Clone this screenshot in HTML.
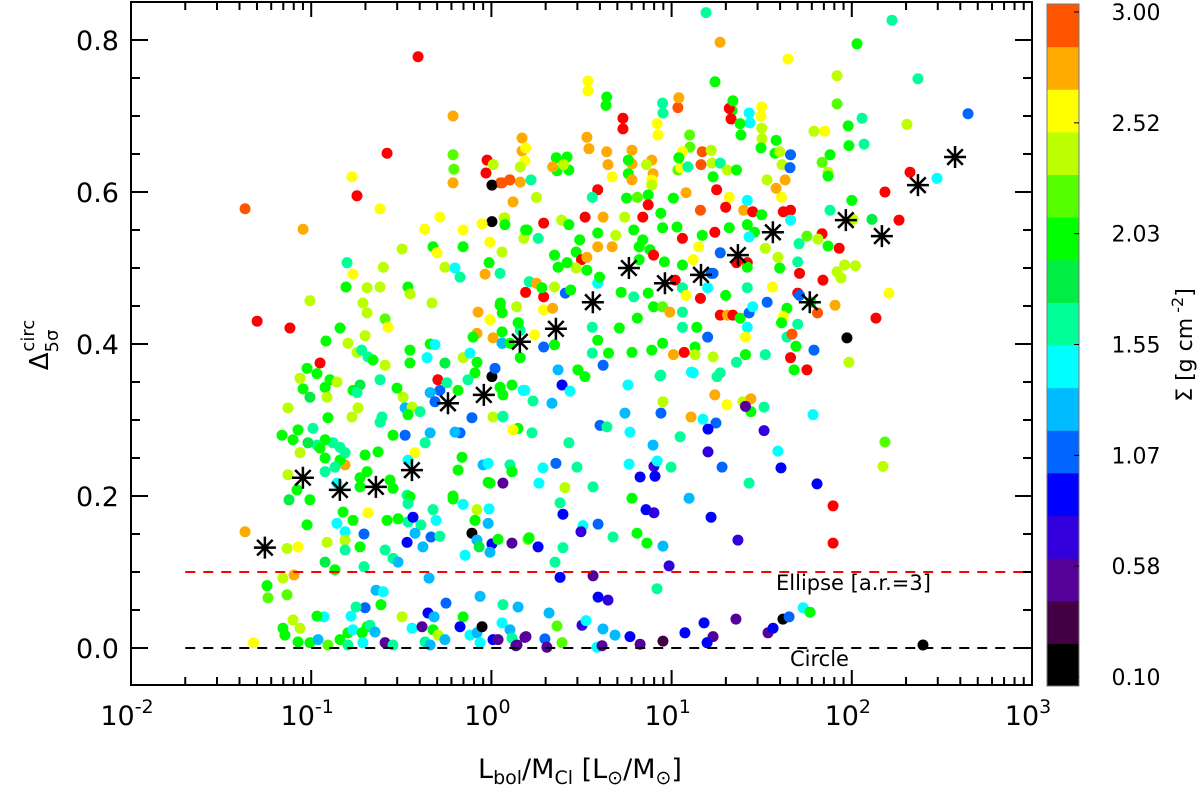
<!DOCTYPE html>
<html><head><meta charset="utf-8"><style>
html,body{margin:0;padding:0;background:#fff;}
svg{display:block;font-family:"DejaVu Sans","Liberation Sans",sans-serif;}
</style></head><body>
<svg id="chart" width="1200" height="791" viewBox="0 0 1200 791" xmlns="http://www.w3.org/2000/svg">
<g id="points"></g>
<g id="refs"></g>
<g id="stars"></g>
<g id="axes"></g>
<g id="cbar"></g>
</svg>
<script>
// ---- data: [log10(Lbol/Mcl), Delta_5sigma^circ, Sigma (g cm^-2)] ----
const pointsLogX = [];
const pointsDelta = [];
const pointsSigma = [];
const rawPoints = [
// top band
[1.191,0.836,1.64],[1.269,0.797,2.65],[1.646,0.775,2.55],[-0.407,0.778,3.2],[0.536,0.746,2.55],[0.536,0.733,2.55],[1.241,0.745,2.01],[0.636,0.714,2.01],[-0.213,0.7,2.74],[0.952,0.704,1.64],[1.035,0.711,2.92],[1.335,0.707,2.01],[1.33,0.696,3.2],[1.435,0.691,1.46],[1.496,0.7,2.55],[0.73,0.683,3.2],[0.924,0.675,2.55],[1.385,0.675,2.01],[1.502,0.67,2.37],[1.496,0.658,2.01],[1.574,0.651,2.01],[-0.579,0.651,3.2],[0.541,0.657,2.74],[1.102,0.659,2.19],[0.17,0.654,2.74],[0.186,0.641,2.55],[-0.208,0.63,2.19],[-0.03,0.625,3.2],[0.364,0.628,2.01],[0.43,0.629,2.01],[0.647,0.636,2.74],[0.78,0.637,2.74],[0.76,0.624,2.01],[0.897,0.624,2.74],[1.035,0.629,2.19],[1.05,0.632,2.55],[1.163,0.636,2.92],[1.224,0.638,2.37],[1.613,0.636,2.37],[1.657,0.632,1.1],
// mid-centre
[0.64,0.725,2.01],[0.95,0.717,1.64],[1.04,0.724,2.74],[0.73,0.697,3.2],[0.92,0.69,2.55],[1.32,0.71,3.2],[1.34,0.72,2.01],[1.43,0.704,1.46],[1.5,0.712,2.55],[1.38,0.69,2.01],[1.1,0.675,2.19],[1.5,0.684,2.37],[1.58,0.668,2.01],
[0.17,0.671,2.74],[0.19,0.658,2.55],[0.53,0.672,2.74],[0.64,0.653,2.74],[0.78,0.655,2.74],[0.76,0.642,2.01],[0.89,0.642,2.74],[0.86,0.636,2.37],[1.06,0.653,2.55],[1.17,0.653,2.92],[1.22,0.655,2.37],[1.04,0.645,2.01],[1.09,0.633,1.64],[1.27,0.638,1.64],[1.31,0.629,2.37],[1.36,0.629,2.01],[1.23,0.62,2.01],[1.6,0.653,2.37],[1.66,0.649,1.1],
[0.36,0.645,2.01],[0.42,0.646,2.01],[0.34,0.633,2.74],[0.4,0.636,2.37],[0.16,0.633,2.37],[0.22,0.616,1.64],[0.1,0.616,2.74],[0.05,0.612,2.92],[0.16,0.613,2.74],[0.12,0.587,2.74],[0.25,0.593,2.37],[0.67,0.62,2.55],[0.78,0.616,2.74],[0.89,0.616,2.55],[0.89,0.609,2.37],[0.59,0.603,3.2],[0.56,0.593,1.64],[0.75,0.592,2.01],[0.81,0.593,2.19],[0.87,0.596,2.01],[1.01,0.592,2.01],[1.08,0.599,2.74],[1.25,0.603,3.2],[1.32,0.593,2.55],[1.42,0.589,1.46],[1.61,0.593,2.55],[1.58,0.605,2.74],[1.63,0.616,2.74],[1.53,0.616,2.37],
[0.87,0.583,3.2],[1.16,0.576,2.92],[1.3,0.58,3.2],[1.4,0.576,2.74],[1.45,0.574,3.2],[1.5,0.57,2.01],[1.62,0.574,3.2],[1.66,0.576,3.2],[1.66,0.563,1.46],[0.07,0.566,2.37],[0.29,0.559,3.2],[0.39,0.563,2.37],[0.43,0.557,2.01],[0.52,0.567,3.2],[0.62,0.567,2.74],[0.74,0.567,2.37],[0.84,0.567,3.2],[0.94,0.572,2.01],
[0.198,0.55,2.01],[0.26,0.539,1.64],[0.18,0.539,2.37],[0.49,0.537,2.01],[0.59,0.546,2.01],[0.69,0.543,2.37],[0.79,0.55,2.01],[0.84,0.537,2.01],[0.95,0.553,2.01],[1.03,0.554,2.01],[1.06,0.539,3.2],[1.17,0.543,2.01],[1.24,0.547,3.2],[1.32,0.553,2.01],[1.42,0.557,2.01],[1.46,0.547,2.01],[1.43,0.541,1.46],
[0.47,0.521,2.01],[0.59,0.528,2.74],[0.67,0.528,2.74],[0.82,0.528,2.01],[0.88,0.524,2.01],[1.15,0.528,2.55],[0.35,0.517,2.01],[0.5,0.511,3.2],[0.53,0.514,2.74],[0.9,0.517,3.2],[1.27,0.52,1.1],[1.52,0.526,2.37],[1.6,0.5,2.01],[1.59,0.514,2.37],[0.47,0.5,2.37],[0.42,0.507,2.01],[0.37,0.501,2.01],[0.53,0.497,2.01],[0.82,0.511,2.01],[0.96,0.508,2.01],[1.06,0.504,2.01],[1.12,0.511,2.55],[1.23,0.493,1.1],[1.36,0.507,3.2],[1.42,0.507,3.2],[1.42,0.501,2.01],[1.7,0.508,1.64],
[0.21,0.482,1.64],[0.19,0.468,3.2],[0.25,0.48,2.74],[0.29,0.462,3.2],[0.28,0.474,2.01],[0.35,0.475,2.37],[0.41,0.467,1.1],[0.44,0.471,2.01],[0.59,0.48,1.46],[0.6,0.488,2.01],[0.72,0.468,2.01],[0.79,0.462,1.64],[0.87,0.467,2.01],[1.02,0.484,3.2],[1.06,0.474,1.64],[1.08,0.464,2.55],[1.16,0.46,3.2],[1.2,0.474,1.46],[1.22,0.493,1.1],[1.3,0.464,2.01],[1.42,0.474,1.64],[1.53,0.455,1.1],[1.56,0.475,2.55],[1.64,0.447,2.01],[1.7,0.467,3.2],
[0.29,0.445,2.55],[0.34,0.447,2.74],[0.14,0.449,2.37],[0.05,0.454,2.01],[0.9,0.449,2.01],[0.95,0.449,2.19],[0.99,0.442,2.74],[1.06,0.442,1.64],[1.27,0.438,3.2],[1.31,0.438,2.74],[1.34,0.438,3.2],[1.38,0.434,2.01],[1.43,0.441,1.1],[1.45,0.449,1.46],[1.42,0.422,1.46],[1.41,0.409,2.55],[1.62,0.436,2.55],[1.61,0.428,2.01],[1.64,0.409,1.64],
[0.06,0.441,2.01],[0.15,0.428,2.01],[0.16,0.418,1.64],[0.24,0.412,2.55],[0.29,0.396,1.1],[0.35,0.399,2.01],[0.56,0.422,1.64],[0.71,0.421,2.01],[0.81,0.434,2.01],[0.59,0.405,2.01],[0.65,0.388,2.01],[0.56,0.388,1.64],[0.78,0.389,2.01],[0.89,0.392,2.01],[0.95,0.401,2.01],[1.01,0.386,2.74],[1.07,0.389,3.2],[1.13,0.396,2.01],[1.13,0.386,2.37],[1.06,0.422,1.64],[1.14,0.422,2.01],[1.2,0.409,1.1],[1.23,0.383,2.37],[1.36,0.376,1.64],[1.41,0.386,2.01],[1.52,0.386,1.64],[1.66,0.382,3.2],[1.68,0.366,2.01],
[0.06,0.401,1.1],[0.16,0.382,2.01],[0.37,0.366,1.28],[0.62,0.372,1.1],[0.48,0.366,2.01],[1.11,0.363,1.46],[1.27,0.362,1.64],[0.94,0.359,1.64],
// left-centre
[-0.213,0.649,2.19],[-0.024,0.642,3.2],[0.01,0.636,2.37],[-0.774,0.62,2.55],[-0.746,0.595,3.2],[-1.367,0.578,2.92],[-1.045,0.551,2.74],[-0.618,0.578,2.55],[-0.213,0.612,2.74],[0.003,0.609,0.1],[0.059,0.612,2.92],[0.103,0.616,2.92],[0.003,0.561,0.1],[-0.052,0.558,2.55],[0.075,0.566,2.37],[0.075,0.557,2.01],[-0.286,0.567,2.55],[-0.37,0.551,2.55],[-0.157,0.55,2.55],[-0.008,0.534,2.55],[0.19,0.55,2.01],[-0.496,0.525,2.37],[-0.324,0.528,2.01],[-0.302,0.52,2.55],[-0.157,0.528,2.01],[0.059,0.521,2.37],[-0.258,0.501,2.37],[-0.202,0.5,1.46],[-0.174,0.488,1.64],[-0.013,0.507,2.01],[-0.035,0.492,2.74],[0.048,0.493,1.64],[-0.801,0.507,1.64],[-0.768,0.492,2.55],[-0.6,0.501,2.37],
[-0.807,0.475,2.01],[-0.69,0.474,2.37],[-0.618,0.475,2.37],[-0.463,0.475,2.01],[-0.452,0.466,2.37],[-0.713,0.454,2.37],[-0.69,0.441,2.37],[-0.59,0.433,2.19],[-0.574,0.422,2.55],[-0.33,0.454,2.37],[-1.007,0.457,2.37],[-1.3,0.43,3.2],[-1.118,0.421,3.2],[-0.84,0.421,2.01],[-0.701,0.411,2.37],[-0.796,0.401,2.37],[-0.918,0.404,2.01],[-0.746,0.389,2.37],[-0.72,0.392,1.64],[-0.685,0.383,1.64],[-0.657,0.379,2.01],[-0.59,0.372,2.37],[-0.452,0.392,2.01],[-0.34,0.4,2.01],[-0.313,0.399,1.46],[-0.357,0.382,1.46],[-0.452,0.375,2.01],[-0.258,0.375,1.83],[-0.951,0.375,3.2],[-1.023,0.368,2.01],[-0.968,0.361,2.01],[-1.062,0.355,2.37],[-0.896,0.353,2.01],[-0.857,0.35,2.37],
[-1.045,0.341,2.01],[-1.007,0.33,1.83],[-0.923,0.343,2.01],[-0.912,0.33,2.37],[-1.129,0.316,2.37],[-0.907,0.303,2.01],[-0.774,0.304,2.37],[-0.74,0.316,2.37],[-0.768,0.339,2.01],[-0.729,0.346,1.83],[-0.746,0.336,1.64],[-0.618,0.353,1.64],[-0.524,0.342,2.01],[-0.49,0.33,2.37],[-0.479,0.316,1.28],[-0.44,0.317,2.37],[-0.463,0.307,2.01],[-0.396,0.311,1.64],[-0.607,0.304,1.64],[-0.618,0.297,1.64],[-0.479,0.28,1.1],[-0.546,0.28,2.01],[-0.34,0.283,1.28],[-0.368,0.27,1.64],[-0.424,0.257,2.55],[-0.463,0.247,1.46],[-0.629,0.258,2.01],[-0.701,0.254,2.01],[-0.563,0.221,2.01],[-0.69,0.232,2.01],[-0.812,0.241,2.74],[-0.84,0.247,2.01],[-0.812,0.257,1.64],[-0.84,0.264,1.64],[-0.879,0.27,1.64],[-0.923,0.274,2.01],[-0.968,0.267,1.64],[-0.99,0.289,1.64],[-1.073,0.287,2.01],[-1.101,0.274,2.01],[-1.162,0.28,2.01],[-1.018,0.27,1.83],[-0.951,0.263,2.01],[-1.062,0.257,2.37],[-0.923,0.25,2.01],[-0.868,0.238,1.64],[-0.923,0.232,1.64],[-1.129,0.228,2.37],[-0.857,0.217,1.46],[-1.079,0.208,2.01],[-0.729,0.224,2.01],[-0.729,0.212,2.01],[-0.546,0.21,2.01],[-0.468,0.201,1.64],
[-0.185,0.234,2.01],[-0.163,0.251,2.01],[-0.046,0.241,1.28],[-0.018,0.243,1.46],[0.103,0.241,1.64],[0.114,0.232,1.64],[-0.018,0.218,2.01],[0.064,0.217,0.56],[-0.213,0.2,2.01],[-0.174,0.283,1.1],[-0.202,0.284,1.28],[-0.108,0.303,1.1],[0.009,0.304,2.37],[0.064,0.304,1.46],[0.12,0.287,2.55],[0.148,0.289,2.01],[0.176,0.339,1.46],[0.114,0.346,2.01],[0.064,0.333,2.01],[0.048,0.343,2.01],[0.003,0.357,0.1],[0.02,0.368,1.1],[-0.091,0.362,2.01],[-0.13,0.353,1.64],[-0.08,0.376,2.01],[-0.157,0.382,2.37],[-0.119,0.388,1.46],[-0.185,0.339,2.01],[-0.297,0.353,3.2],[-0.286,0.339,1.1],[-0.34,0.336,1.28],[-0.313,0.324,1.1],[-0.247,0.349,1.64],[-0.08,0.414,2.74],[-0.008,0.432,2.55],[-0.074,0.442,2.74],[0.048,0.451,2.01],[0.059,0.416,2.01],[0.009,0.408,2.74],[0.059,0.401,1.28],[0.103,0.401,2.01],[0.148,0.428,2.01],[-0.102,0.409,2.01],
// lower-left
[-1.367,0.153,2.74],[-1.073,0.133,2.55],[-1.134,0.131,2.37],[-1.023,0.162,2.01],[-1.123,0.195,1.83],[-1.007,0.195,2.01],[-0.923,0.113,1.83],[-0.868,0.103,2.01],[-1.095,0.096,2.74],[-1.157,0.092,2.37],[-1.245,0.082,2.01],[-1.24,0.066,2.19],[-1.134,0.07,2.19],[-0.912,0.139,2.37],[-0.857,0.164,1.46],[-0.812,0.153,1.46],[-0.812,0.142,2.37],[-0.768,0.168,2.01],[-0.812,0.129,1.64],[-0.729,0.133,2.01],[-0.707,0.15,1.1],[-0.685,0.178,2.55],[-0.707,0.107,1.64],[-0.823,0.179,2.01],[-0.579,0.168,2.01],[-0.518,0.17,2.01],[-0.463,0.166,1.64],[-0.435,0.172,1.0],[-0.391,0.162,1.64],[-0.424,0.151,1.28],[-0.468,0.139,1.0],[-0.38,0.133,1.28],[-0.335,0.146,1.1],[-0.286,0.147,1.64],[-0.59,0.129,1.64],[-0.546,0.118,1.64],[-0.518,0.113,1.28],[-0.452,0.199,2.01],[-0.463,0.19,1.64],[-0.324,0.182,1.64],[-0.307,0.168,1.46],[-0.213,0.196,2.01],[-0.157,0.189,1.46],[-0.08,0.182,2.37],[-0.091,0.168,2.01],[-0.013,0.183,1.46],[-0.018,0.164,1.28],[-0.108,0.151,0.1],[-0.08,0.142,1.28],[-0.068,0.133,1.83],[0.003,0.137,1.0],[-0.008,0.126,1.28],[-0.146,0.122,1.46],[0.037,0.143,2.01],[0.114,0.138,0.56],[0.203,0.143,2.19],[-0.008,0.217,2.01],
[-0.346,0.092,1.28],[-0.64,0.076,1.28],[-0.6,0.074,1.46],[-0.701,0.053,1.1],[-0.751,0.054,1.64],[-0.613,0.057,2.01],[-0.779,0.042,1.46],[-0.929,0.041,1.46],[-0.968,0.042,2.01],[-1.101,0.037,2.37],[-1.157,0.026,2.01],[-1.062,0.026,2.37],[-1.146,0.017,2.01],[-1.073,0.008,2.01],[-1.007,0.007,2.01],[-0.962,0.011,1.28],[-0.907,0.004,2.19],[-0.84,0.011,2.01],[-0.796,0.02,2.01],[-0.768,0.024,1.46],[-0.718,0.02,2.01],[-0.69,0.028,2.01],[-0.674,0.03,1.64],[-0.646,0.021,1.28],[-0.713,0.007,1.46],[-0.796,0.004,1.64],[-0.59,0.007,0.56],[-0.546,0.004,1.64],[-0.496,0.041,2.37],[-0.44,0.026,1.46],[-0.385,0.028,0.56],[-0.352,0.046,0.92],[-0.318,0.041,1.28],[-0.252,0.059,1.1],[-0.324,0.024,2.01],[-0.296,0.017,2.37],[-0.368,0.008,1.64],[-0.258,0.011,1.28],[-0.34,0.004,1.28],[-0.157,0.041,2.01],[-0.174,0.028,1.0],[-0.119,0.017,1.46],[-0.08,0.02,1.28],[-0.052,0.028,0.1],[-0.063,0.007,1.46],[-0.063,0.068,1.28],[0.064,0.057,1.64],[0.148,0.054,1.28],[0.059,0.033,1.46],[0.103,0.024,1.28],[0.009,0.011,1.0],[0.037,0.011,0.56],[0.114,0.013,1.64],[0.142,0.004,0.56],[0.186,0.014,0.56],[-1.32,0.007,2.55],
// lower-centre
[0.936,0.358,1.64],[1.12,0.362,1.46],[1.252,0.357,1.64],[0.186,0.339,1.46],[0.231,0.325,1.64],[0.336,0.322,1.28],[0.392,0.346,1.0],[0.436,0.338,1.46],[0.519,0.357,2.01],[0.741,0.309,1.28],[0.758,0.346,1.46],[0.952,0.324,2.37],[0.941,0.309,1.1],[1.24,0.333,2.74],[1.307,0.32,2.55],[1.396,0.324,2.37],[1.44,0.328,2.74],[1.44,0.311,2.01],[1.41,0.318,0.56],[1.513,0.317,1.64],[1.108,0.304,2.74],[1.174,0.301,1.46],[1.246,0.296,1.1],[1.202,0.288,1.0],[1.513,0.286,0.74],[0.064,0.305,1.64],[0.12,0.287,2.55],[0.225,0.283,1.64],[0.603,0.293,1.1],[0.641,0.291,1.64],[0.769,0.284,1.46],[0.43,0.27,1.64],[1.047,0.278,1.64],[0.897,0.267,1.28],[1.202,0.258,0.74],[1.59,0.259,1.46],[1.607,0.237,1.0],[1.28,0.238,1.1],[1.43,0.217,1.64],[1.097,0.197,1.28],[1.219,0.172,1.0],[0.286,0.237,1.46],[0.358,0.243,1.1],[0.475,0.238,1.64],[0.764,0.242,1.46],[0.902,0.239,0.74],[0.92,0.246,1.46],[0.997,0.238,1.64],[0.825,0.225,1.0],[0.908,0.226,1.0],[0.264,0.217,1.46],[0.114,0.232,2.01],[0.408,0.211,2.37],[0.564,0.212,1.64],[0.381,0.191,1.64],[0.397,0.176,1.0],[0.78,0.197,2.01],[0.858,0.182,1.0],[0.902,0.178,0.74],[0.508,0.161,1.46],[0.497,0.153,0.74],[0.592,0.163,1.1],[0.675,0.146,1.64],[0.808,0.151,2.01],[0.863,0.138,2.01],[0.952,0.134,1.28],[1.368,0.142,0.74],[0.209,0.145,2.01],[0.259,0.133,0.92],[0.397,0.132,1.64],[0.353,0.113,1.64],[0.986,0.108,0.74],[0.381,0.093,0.92],[0.564,0.095,0.56],[0.919,0.078,1.64],[0.592,0.067,0.92],[0.647,0.063,0.74],[0.32,0.046,1.28],[0.364,0.029,2.19],[0.503,0.03,0.74],[0.525,0.036,1.46],[0.619,0.025,1.28],[0.686,0.017,1.28],[0.769,0.015,0.92],[0.825,0.005,0.56],[0.952,0.009,0.37],[1.074,0.02,0.92],[1.18,0.033,0.92],[1.23,0.015,0.56],[1.197,0.007,0.92],[1.357,0.038,0.56],[1.535,0.02,0.56],[1.563,0.026,0.92],[1.618,0.038,0.1],[1.652,0.041,1.1],[0.192,0.015,0.56],[0.297,0.012,1.1],[0.392,0.007,2.19],[0.308,0.001,0.56],[0.586,0.001,1.46],[0.614,0.003,0.56],[0.136,0.003,0.56],
// right
[2.223,0.826,1.64],[2.029,0.795,2.01],[1.918,0.753,2.37],[2.367,0.749,1.64],[1.918,0.716,2.19],[2.057,0.697,1.55],[2.645,0.703,1.1],[2.306,0.689,2.37],[1.79,0.68,2.37],[1.85,0.68,2.55],[1.98,0.687,2.01],[1.984,0.661,2.01],[2.068,0.663,1.64],[1.879,0.649,2.01],[1.835,0.639,2.19],[1.868,0.626,2.37],[1.868,0.621,2.01],[2.473,0.618,1.46],[2.323,0.626,3.2],[2.184,0.6,3.2],[1.879,0.576,1.64],[2.007,0.564,2.37],[2.0,0.589,2.01],[2.112,0.564,1.83],[2.262,0.563,3.2],[1.751,0.542,2.19],[1.835,0.545,3.2],[1.812,0.538,2.37],[1.707,0.532,1.64],[1.868,0.529,2.01],[1.93,0.526,3.2],[1.96,0.504,2.37],[2.02,0.503,2.37],[1.918,0.495,2.37],[1.94,0.487,2.37],[1.71,0.493,3.2],[1.84,0.484,3.2],[1.71,0.464,1.1],[1.774,0.455,2.01],[1.907,0.451,2.74],[1.81,0.441,2.92],[2.206,0.467,2.55],[1.7,0.426,1.64],[1.668,0.413,2.92],[2.134,0.434,3.2],[1.973,0.408,0.1],[1.69,0.397,2.01],[1.79,0.392,1.1],[1.984,0.376,2.37],[1.751,0.366,3.2],[1.785,0.307,1.46],[2.184,0.271,2.19],[2.173,0.239,2.37],[1.807,0.216,0.92],[1.896,0.187,3.2],[1.896,0.138,3.2],[1.73,0.053,1.46],[1.768,0.047,2.01],[2.395,0.004,0.1]
];
rawPoints.forEach(p=>{pointsLogX.push(p[0]);pointsDelta.push(p[1]);pointsSigma.push(p[2]);});
const starLogX = [-1.257,-1.046,-0.841,-0.641,-0.441,-0.241,-0.042,0.158,0.358,0.563,0.763,0.963,1.163,1.368,1.562,1.767,1.967,2.167,2.367,2.573];
const starDelta = [0.132,0.224,0.208,0.212,0.234,0.322,0.333,0.403,0.420,0.455,0.500,0.480,0.491,0.517,0.547,0.455,0.563,0.542,0.609,0.646];
const yTicks = [0.0,0.2,0.4,0.6,0.8];
const yTickLabels = ["0.0","0.2","0.4","0.6","0.8"];
const xDecades = [-2,-1,0,1,2,3];
const cbarLabels = ["3.00","2.52","2.03","1.55","1.07","0.58","0.10"];
const bandColors = ["#000000","#440044","#550099","#3300dd","#0000ff","#0066ff","#00bbff","#00ffff","#00ff99","#00ee44","#00ff00","#55ff00","#bbff00","#ffff00","#ffaa00","#ff5500"];

const NS="http://www.w3.org/2000/svg";
const L=131,R=1032,T=2,B=685;
const X=lx=>L+(lx+2)*(R-L)/5;
const Y=v=>648-v*760;
const sMin=0.1,sMax=3.0;
function col(s){ if(s>sMax) return "#ff0000"; let i=Math.floor((s-sMin)/(sMax-sMin)*16); i=Math.max(0,Math.min(15,i)); return bandColors[i]; }
function mk(tag,attrs,parent){const e=document.createElementNS(NS,tag);for(const k in attrs)e.setAttribute(k,attrs[k]);parent.appendChild(e);return e;}

const gp=document.getElementById('points');
for(let i=0;i<pointsLogX.length;i++){
  const c=mk('circle',{cx:X(pointsLogX[i]),cy:Y(pointsDelta[i]),r:5.5,fill:col(pointsSigma[i])},gp);
  
  
}
const gr=document.getElementById('refs');
let l1=mk('line',{x1:X(Math.log10(0.02)),x2:R,y1:Y(0.1),y2:Y(0.1),stroke:"#ff0000","stroke-width":2,"stroke-dasharray":"10,8"},gr);

let l2=mk('line',{x1:X(Math.log10(0.02)),x2:R,y1:Y(0),y2:Y(0),stroke:"#000","stroke-width":2,"stroke-dasharray":"10,8"},gr);

let t1=mk('text',{x:776,y:590,"font-size":21,fill:"#000"},gr);t1.textContent="Ellipse [a.r.=3]";

let t2=mk('text',{x:790,y:666,"font-size":21,fill:"#000"},gr);t2.textContent="Circle";


const gs=document.getElementById('stars');
for(let i=0;i<starLogX.length;i++){
  const cx=X(starLogX[i]),cy=Y(starDelta[i]),r=11;
  let d="";
  for(let k=0;k<4;k++){const a=k*Math.PI/4;d+=`M${cx-r*Math.cos(a)},${cy-r*Math.sin(a)}L${cx+r*Math.cos(a)},${cy+r*Math.sin(a)}`;}
  const s=mk('path',{d:d,stroke:"#000","stroke-width":2.5},gs);
  
  
}

const ga=document.getElementById('axes');
let fr=mk('rect',{x:L,y:T,width:R-L,height:B-T,fill:"none",stroke:"#000","stroke-width":2},ga);

for(let k=-1;k<=17;k++){
  const v=k*0.05, y=Y(v), major=(k%4===0);
  if(y<T||y>B) continue;
  const len=major?17:9;
  mk('line',{x1:L,x2:L+len,y1:y,y2:y,stroke:"#000","stroke-width":2},ga);
  mk('line',{x1:R,x2:R-len,y1:y,y2:y,stroke:"#000","stroke-width":2},ga);
}
yTicks.forEach((v,i)=>{const t=mk('text',{x:L-12,y:Y(v)+10,"font-size":27,"text-anchor":"end"},ga);t.textContent=yTickLabels[i];
  });
xDecades.forEach(d=>{
  const x=X(d);
  mk('line',{x1:x,x2:x,y1:B,y2:B-15,stroke:"#000","stroke-width":2},ga);
  mk('line',{x1:x,x2:x,y1:T,y2:T+15,stroke:"#000","stroke-width":2},ga);
  if(d<3){for(let m=2;m<10;m++){const xm=X(d+Math.log10(m));
    mk('line',{x1:xm,x2:xm,y1:B,y2:B-8,stroke:"#000","stroke-width":2},ga);
    mk('line',{x1:xm,x2:xm,y1:T,y2:T+8,stroke:"#000","stroke-width":2},ga);}}
  const t=mk('text',{x:x-4,y:725,"font-size":27,"text-anchor":"middle"},ga);
  t.innerHTML='10<tspan dy="-12" font-size="19">'+d+'</tspan>';
  
});
let xt=mk('text',{x:580,y:778,"font-size":27,"text-anchor":"middle"},ga);
xt.innerHTML='L<tspan dy="6" font-size="19">bol</tspan><tspan dy="-6">/M</tspan><tspan dy="6" font-size="19">Cl</tspan><tspan dy="-6">  [L</tspan><tspan dy="6" font-size="19">⊙</tspan><tspan dy="-6">/M</tspan><tspan dy="6" font-size="19">⊙</tspan><tspan dy="-6">]</tspan>';

let yt=mk('text',{transform:"translate(48,345) rotate(-90)","font-size":26,"text-anchor":"middle"},ga);
yt.innerHTML='Δ<tspan dy="10" font-size="18">5σ</tspan><tspan dx="-22" dy="-24" font-size="18">circ</tspan>';


const gc=document.getElementById('cbar');
const cx0=1047,cw=32,ctop=4,cbot=686,bh=(cbot-ctop)/16;
for(let i=0;i<16;i++){
  const r=mk('rect',{x:cx0,y:cbot-(i+1)*bh,width:cw,height:bh+0.5,fill:bandColors[i]},gc);
  
}
mk('rect',{x:cx0,y:ctop,width:cw,height:cbot-ctop,fill:"none",stroke:"#777","stroke-width":1},gc);
cbarLabels.forEach((s,i)=>{const y=12+i*(677-12)/6;
  const t=mk('text',{x:1136,y:y+8,"font-size":22,"text-anchor":"middle"},gc);t.textContent=s;
  
  mk('line',{x1:cx0+cw,x2:cx0+cw-5,y1:y,y2:y,stroke:"#000"},gc);});
let ct=mk('text',{transform:"translate(1192,345) rotate(-90)","font-size":22,"text-anchor":"middle"},gc);
ct.innerHTML='Σ [g cm<tspan dy="-9" font-size="16"> -2</tspan><tspan dy="9">]</tspan>';

</script>
</body></html>
